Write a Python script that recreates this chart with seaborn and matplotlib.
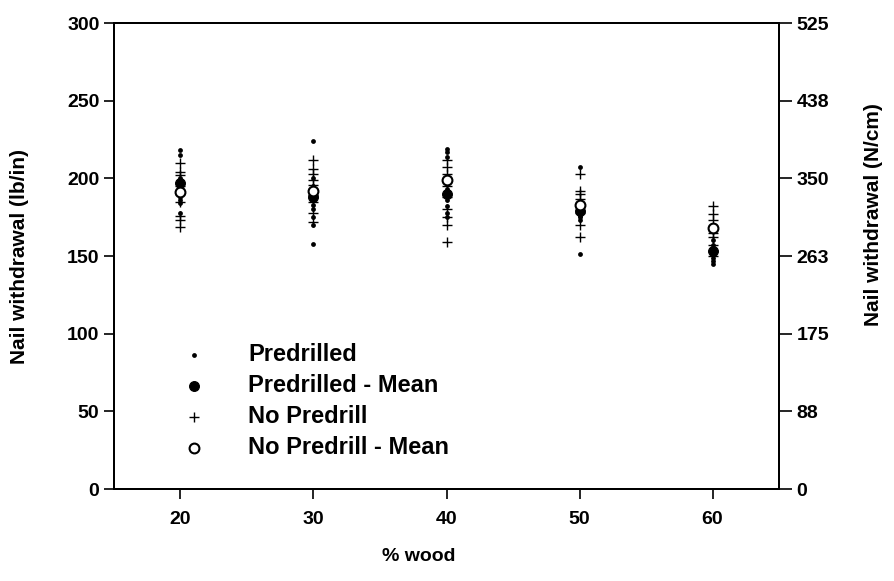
import matplotlib
matplotlib.use("Agg")
import matplotlib.pyplot as plt
import seaborn as sns
import pandas as pd

sns.set_theme(style="ticks")
plt.rcParams['font.family'] = ['Liberation Sans', 'DejaVu Sans']
plt.rcParams['font.weight'] = 'bold'
plt.rcParams['text.color'] = 'black'
plt.rcParams['axes.labelcolor'] = 'black'
plt.rcParams['xtick.color'] = 'black'
plt.rcParams['ytick.color'] = 'black'
plt.rcParams['xtick.labelcolor'] = 'black'
plt.rcParams['ytick.labelcolor'] = 'black'

# % wood levels
wood_levels = [20, 30, 40, 50, 60]

# Individual observations (lb/in)
pred_20 = [218, 215, 200, 197, 193, 188, 186, 184, 178]
pred_30 = [224, 200, 195, 190, 186, 183, 180, 175, 170, 158]
pred_40 = [219, 217, 214, 200, 193, 190, 186, 182, 178, 175]
pred_50 = [207, 185, 180, 178, 176, 175, 173, 151]
pred_60 = [160, 157, 155, 153, 151, 149, 147, 145]

nopre_20 = [210, 204, 202, 195, 190, 185, 176, 173, 169]
nopre_30 = [212, 206, 203, 199, 196, 193, 189, 185, 178, 172]
nopre_40 = [212, 207, 203, 199, 195, 188, 180, 175, 170, 159]
nopre_50 = [203, 192, 190, 187, 182, 178, 170, 162]
nopre_60 = [182, 177, 173, 168, 165, 162, 157, 150]

# Means (lb/in)
pred_mean = [197, 188, 190, 179, 153]
nopre_mean = [191, 192, 199, 183, 168]

legend_labels = ["Predrilled", "Predrilled - Mean", "No Predrill", "No Predrill - Mean"]

pred_all = [pred_20, pred_30, pred_40, pred_50, pred_60]
nopre_all = [nopre_20, nopre_30, nopre_40, nopre_50, nopre_60]

rows = []
for w, vals in zip(wood_levels, pred_all):
    rows += [(w, v) for v in vals]
df_pred = pd.DataFrame(rows, columns=["wood", "value"])
rows = []
for w, vals in zip(wood_levels, nopre_all):
    rows += [(w, v) for v in vals]
df_nopre = pd.DataFrame(rows, columns=["wood", "value"])
df_pm = pd.DataFrame({"wood": wood_levels, "value": pred_mean})
df_nm = pd.DataFrame({"wood": wood_levels, "value": nopre_mean})

fig = plt.figure(figsize=(8.94, 5.81), dpi=100)
ax = fig.add_axes([0.1275, 0.1583, 0.7439, 0.8021])

sns.scatterplot(data=df_pred, x="wood", y="value", ax=ax, marker="o", s=12,
                color="black", edgecolor="black", linewidth=0, label=legend_labels[0], zorder=3)
sns.scatterplot(data=df_pm, x="wood", y="value", ax=ax, marker="o", s=50,
                color="black", edgecolor="black", linewidth=0.8, label=legend_labels[1], zorder=4)
sns.scatterplot(data=df_nopre, x="wood", y="value", ax=ax, marker="+", s=45,
                color="black", linewidth=1.0, label=legend_labels[2], zorder=3)
sns.scatterplot(data=df_nm, x="wood", y="value", ax=ax, marker="o", s=50,
                facecolor="white", edgecolor="black", linewidth=1.5, label=legend_labels[3], zorder=5)

ax.set_xlim(15, 65)
ax.set_ylim(0, 300)
ax.set_xticks(wood_levels)
ax.set_yticks([0, 50, 100, 150, 200, 250, 300])
ax.set_xlabel("% wood", fontsize=14, fontweight="bold", color="black")
ax.set_ylabel("Nail withdrawal (lb/in)", fontsize=15, fontweight="bold", color="black")
ax.xaxis.set_label_coords(0.458, -0.127)
ax.yaxis.set_label_coords(-0.128, 0.5)
ax.tick_params(axis="both", labelsize=14, direction="out", length=7, width=1.2,
               color="black", labelcolor="black")
ax.tick_params(axis="x", pad=9)
for lab in ax.get_xticklabels() + ax.get_yticklabels():
    lab.set_fontweight("bold")
for sp in ax.spines.values():
    sp.set_linewidth(1.4)
    sp.set_color("black")

ax2 = ax.twinx()
ax2.set_ylim(0, 525)
ax2.set_yticks([0, 87.5, 175, 262.5, 350, 437.5, 525])
ax2.set_yticklabels(["0", "88", "175", "263", "350", "438", "525"], fontweight="bold")
ax2.set_ylabel("Nail withdrawal (N/cm)", fontsize=15, fontweight="bold", color="black")
ax2.yaxis.set_label_coords(1.128, 0.59)
ax2.tick_params(axis="y", labelsize=14, direction="out", length=9, width=1.2,
                color="black", labelcolor="black")
for sp in ax2.spines.values():
    sp.set_linewidth(1.4)
    sp.set_color("black")

leg = ax.legend(loc="upper left", bbox_to_anchor=(0.07, 0.334), frameon=False,
                prop={"size": 17, "weight": "bold"}, handletextpad=1.3,
                labelspacing=0.34, borderaxespad=0, markerscale=1.0)
for t in leg.get_texts():
    t.set_color("black")

fig.savefig("out.png", dpi=100)
